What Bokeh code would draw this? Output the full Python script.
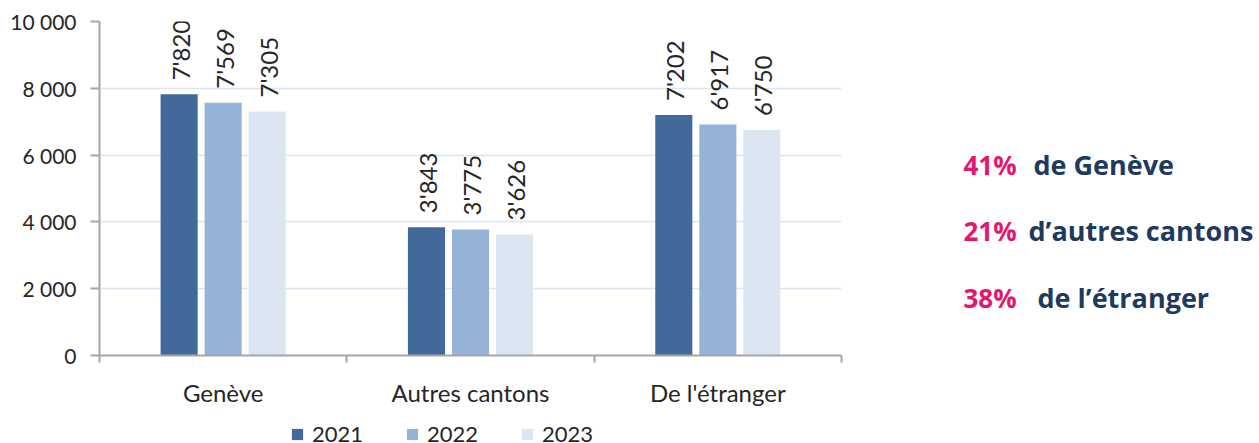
import math
from bokeh.plotting import figure
from bokeh.layouts import row, column
from bokeh.models import (ColumnDataSource, Range1d, FixedTicker, CustomJSTickFormatter,
                          Label, Legend, LegendItem)
from bokeh.core.properties import value
from bokeh.embed import file_html
from bokeh.resources import INLINE

categories = ["Genève", "Autres cantons", "De l'étranger"]
years = ["2021", "2022", "2023"]
v2021 = [7820, 3843, 7202]
v2022 = [7569, 3775, 6917]
v2023 = [7305, 3626, 6750]
shares = ["41%", "21%", "38%"]
share_texts = ["de Genève", "d\u2019autres cantons", "de l\u2019étranger"]

colors = ["#416A9B", "#95B3D7", "#DCE6F2"]
FONT = "Lato"
TXT = "#262626"

p = figure(width=850, height=410, output_backend="svg", toolbar_location=None,
           x_range=Range1d(0, 3), y_range=Range1d(0, 10000),
           min_border_left=99, min_border_right=9, min_border_top=21, min_border_bottom=55)
p.outline_line_color = None
p.xgrid.grid_line_color = None
p.ygrid.grid_line_color = "#DCE6F2"
p.ygrid.grid_line_width = 1.5

offsets = [-0.178, 0.0, 0.178]
series = [v2021, v2022, v2023]
for yr, vals, off, col in zip(years, series, offsets, colors):
    xs = [i + 0.5 + off for i in range(len(categories))]
    src = ColumnDataSource(dict(x=xs, top=vals,
                                lab=[f"{v:,}".replace(",", "'") for v in vals]))
    p.vbar(x="x", top="top", width=0.15, source=src, fill_color=col, line_color=None)
    p.text(x="x", y="top", text="lab", source=src, angle=math.pi / 2,
           text_align="left", text_baseline="middle", y_offset=-14, x_offset=1,
           text_font=value(FONT), text_font_size="24px", text_color=TXT)

# y axis
yax = p.yaxis[0]
yax.ticker = FixedTicker(ticks=[0, 2000, 4000, 6000, 8000, 10000])
yax.formatter = CustomJSTickFormatter(
    code="return tick.toString().replace(/\\B(?=(\\d{3})+(?!\\d))/g, ' ');")
yax.axis_line_color = "#A6A6A6"
yax.axis_line_width = 2
yax.major_tick_line_color = "#A6A6A6"
yax.major_tick_line_width = 2
yax.major_tick_out = 9
yax.major_tick_in = 0
yax.minor_tick_line_color = None
yax.major_label_standoff = 14
yax.major_label_text_font = FONT
yax.major_label_text_font_size = "21px"
yax.major_label_text_color = TXT

# x axis
xax = p.xaxis[0]
xax.ticker = FixedTicker(ticks=[i + 0.5 for i in range(len(categories))],
                         minor_ticks=list(range(len(categories) + 1)))
xax.major_label_overrides = {i + 0.5: c for i, c in enumerate(categories)}
xax.axis_line_color = "#A6A6A6"
xax.axis_line_width = 2
xax.major_tick_line_color = None
xax.minor_tick_line_color = "#A6A6A6"
xax.minor_tick_line_width = 2
xax.minor_tick_out = 7
xax.minor_tick_in = 0
xax.major_label_standoff = 15
xax.major_label_text_font = FONT
xax.major_label_text_font_size = "24px"
xax.major_label_text_color = TXT

# right-side annotations (separate text panel aligned with the chart frame)
t = figure(width=409, height=410, output_backend="svg", toolbar_location=None,
           x_range=Range1d(0, 409), y_range=Range1d(0, 334),
           x_axis_location=None, y_axis_location=None,
           min_border_left=0, min_border_right=0, min_border_top=21, min_border_bottom=55,
           outline_line_color=None)
t.grid.visible = False
ann_base = [164, 230, 297]
ann_tx = [183, 178, 187]
for s, txt, yb, tx in zip(shares, share_texts, ann_base, ann_tx):
    t.add_layout(Label(x=113, y=355 - yb, text=s,
                       text_font="Open Sans", text_font_style="bold",
                       text_font_size="26px", text_color="#E2186F",
                       text_baseline="alphabetic"))
    t.add_layout(Label(x=tx, y=355 - yb, text=txt,
                       text_font="Open Sans", text_font_style="bold",
                       text_font_size="27px", text_color="#1E3A5F",
                       text_baseline="alphabetic"))

# legend strip below the chart (zero-height legend renderers, nothing visible)
lf = figure(width=850, height=33, output_backend="svg", toolbar_location=None,
            x_range=Range1d(0, 1), y_range=Range1d(0, 1),
            x_axis_location=None, y_axis_location=None, min_border=0,
            outline_line_color=None)
lf.grid.visible = False
items = []
for yr, col in zip(years, colors):
    r = lf.vbar(x=[0.5], top=[0], bottom=[0], width=0.0, fill_color=col, line_color=None)
    items.append(LegendItem(label=yr, renderers=[r]))
leg = Legend(items=items, orientation="horizontal", location=(290, -4),
             padding=0, margin=0, spacing=42, border_line_color=None,
             background_fill_alpha=0, glyph_width=14, glyph_height=14,
             label_standoff=8, label_text_font=FONT, label_text_font_size="22px",
             label_text_color=TXT)
lf.add_layout(leg)

layout = column(row(p, t, spacing=0), lf, spacing=0)
open("out.html", "w").write(file_html(layout, INLINE))
